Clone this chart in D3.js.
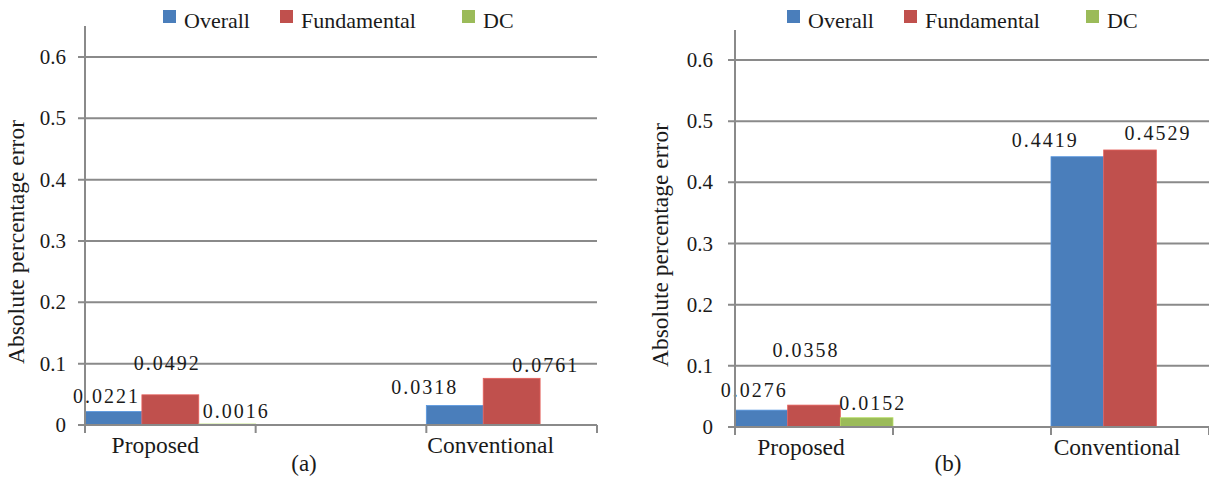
<!DOCTYPE html>
<html>
<head>
<meta charset="utf-8">
<script src="https://cdn.jsdelivr.net/npm/d3@7"></script>
<style>
  html, body { margin: 0; padding: 0; background: #fff; }
</style>
</head>
<body>
<svg id="chart" width="1209" height="478" font-family="'Liberation Serif', 'Times New Roman', 'DejaVu Serif', serif"></svg>
<script>
// Categories (the middle slot is an empty spacer category)
const categories = ["Proposed", "", "Conventional"];
const seriesNames = ["Overall", "Fundamental", "DC"];
const seriesColors = ["#4a7ebb", "#c0504d", "#9bbb59"];
const yTicks = [0, 0.1, 0.2, 0.3, 0.4, 0.5, 0.6];

// Panel (a): absolute percentage error per category, null = no bar
const overallA = [0.0221, null, 0.0318];
const fundamentalA = [0.0492, null, 0.0761];
const dcA = [0.0016, null, null];

// Panel (b)
const overallB = [0.0276, null, 0.4419];
const fundamentalB = [0.0358, null, 0.4529];
const dcB = [0.0152, null, null];

// Value-label nudges (dx, dy relative to the bar's top centre)
const nudgeA = [
  [[-7, -15], null, [-30, -18]],
  [[-3, -32], null, [34, -13]],
  [[9, -13], null, null]
];
const nudgeB = [
  [[-7, -20], null, [-32, -17]],
  [[-8, -55], null, [28, -17]],
  [[6, -15], null, null]
];

const svg = d3.select("#chart");
const textColor = "#1a1a1a";

function drawPanel(o) {
  const g = svg.append("g").attr("fill", textColor);
  const x = d3.scaleBand().domain(d3.range(categories.length)).range([o.x0, o.x1]).padding(0);
  const y = d3.scaleLinear().domain([0, 0.6]).range([o.y0, o.y1]);
  const seriesVals = [o.overall, o.fundamental, o.dc];
  const inner = d3.scaleBand().domain(d3.range(seriesVals.length)).range([0, x.bandwidth()]).padding(0);

  // horizontal gridlines (extend slightly left as tick marks)
  g.selectAll("line.grid").data(yTicks).join("line")
    .attr("x1", o.x0 - 7).attr("x2", o.gridEnd)
    .attr("y1", d => y(d)).attr("y2", d => y(d))
    .attr("stroke", "#8a8a8a").attr("stroke-width", 2);

  // y tick labels
  g.selectAll("text.ytick").data(yTicks).join("text")
    .attr("x", o.x0 - o.labelGap).attr("y", d => y(d) + 7)
    .attr("text-anchor", "end").attr("font-size", 21)
    .text(d => d === 0 ? "0" : d3.format(".1f")(d));

  // bars
  seriesVals.forEach((vals, si) => {
    vals.forEach((v, ci) => {
      if (v === null) return;
      g.append("rect")
        .attr("x", x(ci) + inner(si))
        .attr("y", y(v))
        .attr("width", inner.bandwidth())
        .attr("height", y(0) - y(v))
        .attr("fill", seriesColors[si])
        .attr("stroke", d3.color(seriesColors[si]).brighter(0.5))
        .attr("stroke-width", 0.8);
    });
  });

  // value labels
  seriesVals.forEach((vals, si) => {
    vals.forEach((v, ci) => {
      if (v === null) return;
      const n = o.nudge[si][ci];
      g.append("text")
        .attr("x", x(ci) + inner(si) + inner.bandwidth() / 2 + n[0])
        .attr("y", y(v) + n[1] + 7)
        .attr("text-anchor", "middle")
        .attr("font-size", 20)
        .attr("letter-spacing", 2)
        .text(v.toFixed(4));
    });
  });

  // axes lines
  g.append("line").attr("x1", o.x0).attr("x2", o.x0).attr("y1", o.axisTop).attr("y2", o.y0 + 8)
    .attr("stroke", "#8a8a8a").attr("stroke-width", 2);
  g.append("line").attr("x1", o.x0).attr("x2", o.gridEnd).attr("y1", o.y0).attr("y2", o.y0)
    .attr("stroke", "#8a8a8a").attr("stroke-width", 2);
  // category boundary ticks
  const bounds = d3.range(categories.length + 1).map(i => o.x0 + i * x.step());
  g.selectAll("line.xtick").data(bounds).join("line")
    .attr("x1", d => d).attr("x2", d => d)
    .attr("y1", o.y0).attr("y2", o.y0 + 8)
    .attr("stroke", "#8a8a8a").attr("stroke-width", 2);

  // category labels
  g.selectAll("text.cat").data(categories).join("text")
    .attr("x", (d, i) => x(i) + x.bandwidth() / 2 + o.catDx[i])
    .attr("y", o.y0 + 28)
    .attr("text-anchor", "middle").attr("font-size", 23.5)
    .text(d => d);

  // y-axis title
  g.append("text")
    .attr("transform", `translate(${o.titleX},${o.titleY}) rotate(-90)`)
    .attr("text-anchor", "middle").attr("font-size", 23.5)
    .text("Absolute percentage error");

  // caption
  g.append("text").attr("x", o.captionX).attr("y", 471)
    .attr("text-anchor", "middle").attr("font-size", 23).text(o.caption);

  // legend
  const legendOffsets = [0, 117, 299];
  seriesNames.forEach((name, i) => {
    const lx = o.legendX + legendOffsets[i];
    g.append("rect").attr("x", lx).attr("y", 10).attr("width", 13).attr("height", 13)
      .attr("fill", seriesColors[i]);
    g.append("text").attr("x", lx + 21).attr("y", 28).attr("font-size", 22).text(name);
  });
}

drawPanel({
  x0: 85, x1: 597, gridEnd: 597, y0: 425, y1: 57, axisTop: 26, labelGap: 19,
  overall: overallA, fundamental: fundamentalA, dc: dcA, nudge: nudgeA,
  catDx: [-15, 0, -21], titleX: 24, titleY: 242, captionX: 304, caption: "(a)", legendX: 163
});

drawPanel({
  x0: 735, x1: 1209, gridEnd: 1209, y0: 427, y1: 60, axisTop: 30, labelGap: 22,
  overall: overallB, fundamental: fundamentalB, dc: dcB, nudge: nudgeB,
  catDx: [-13, 0, -13], titleX: 668, titleY: 245, captionX: 948, caption: "(b)", legendX: 787
});
</script>
</body>
</html>
